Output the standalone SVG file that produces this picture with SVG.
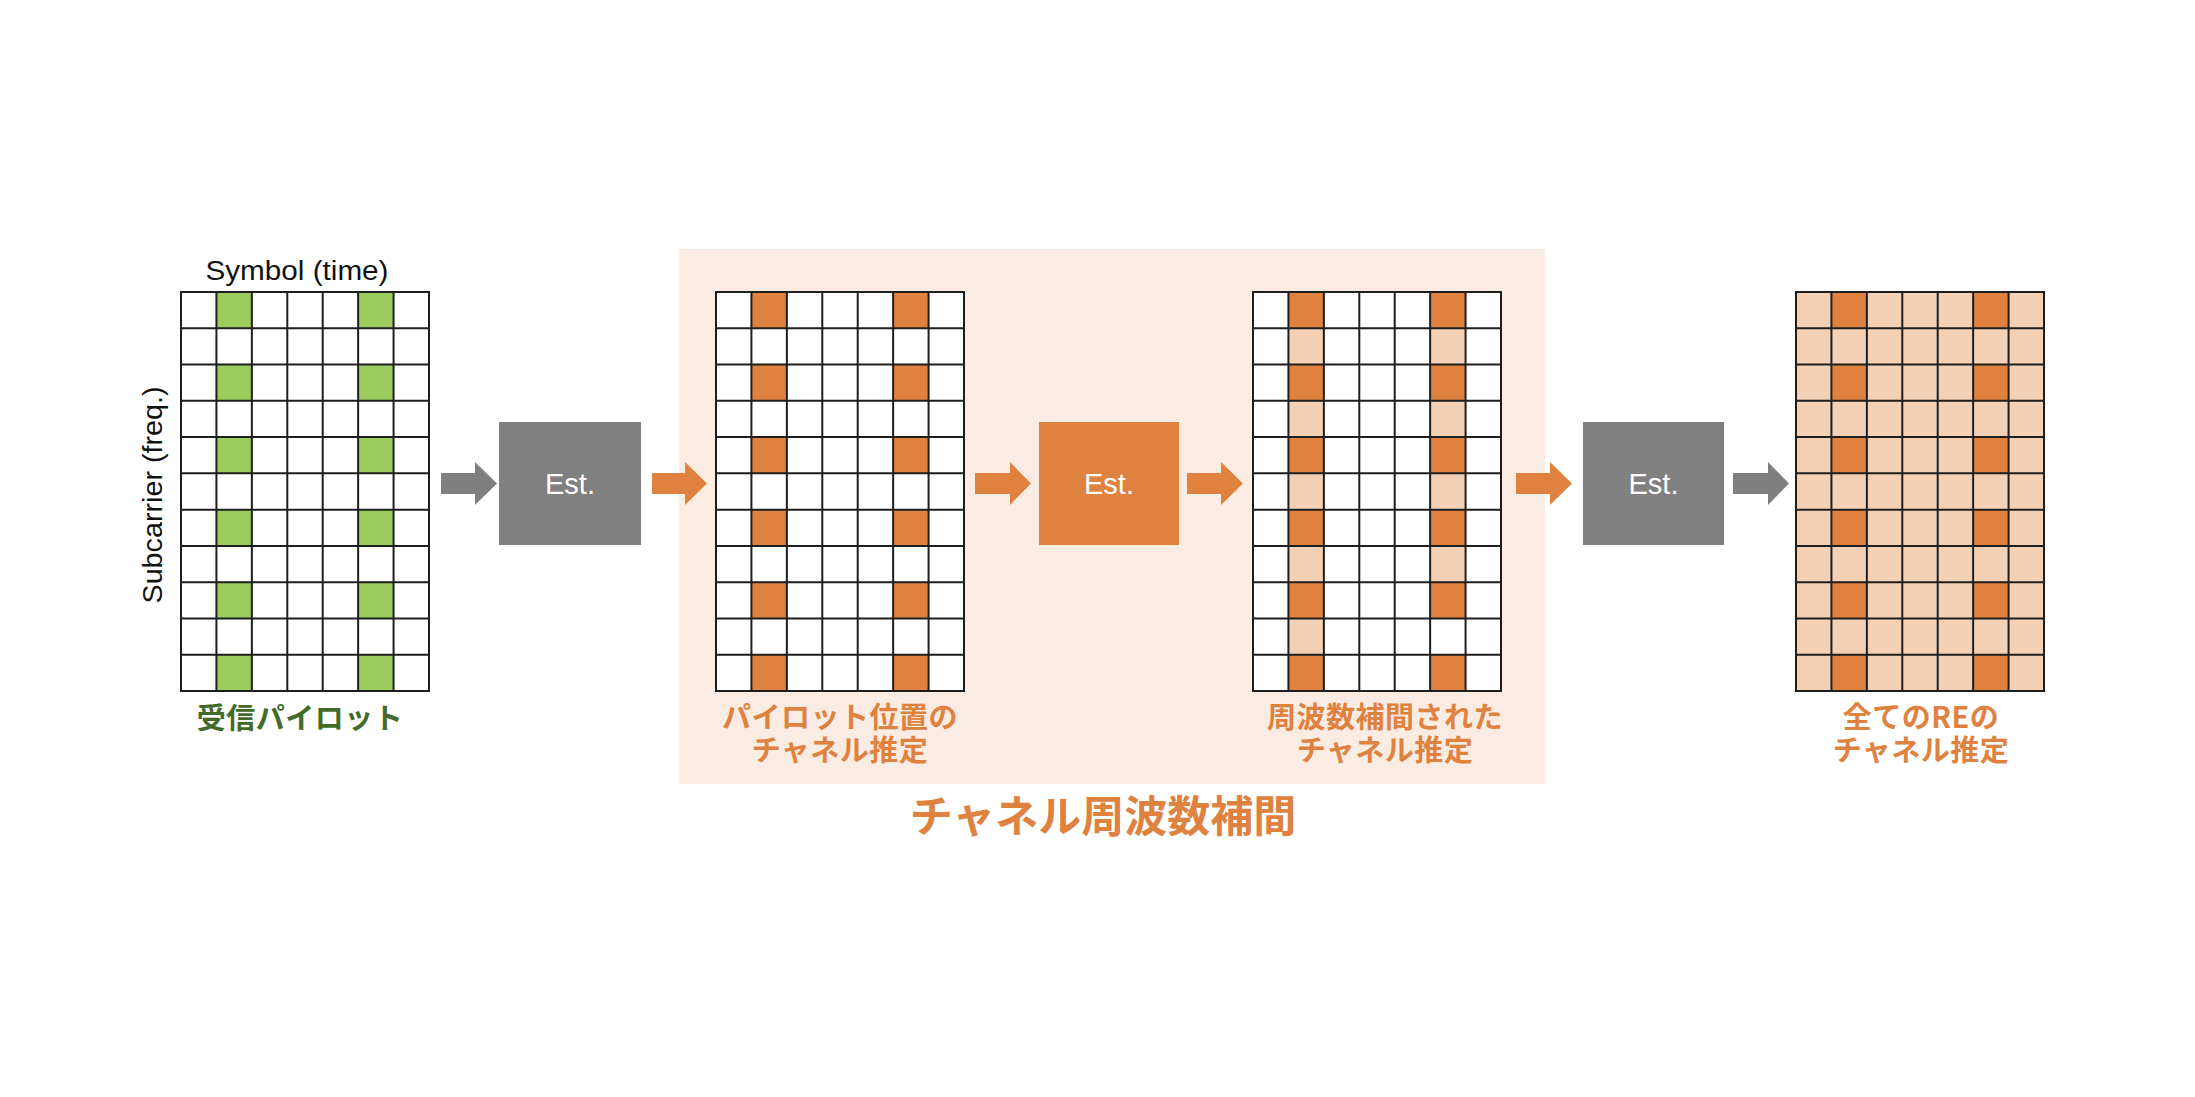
<svg xmlns="http://www.w3.org/2000/svg" xmlns:xlink="http://www.w3.org/1999/xlink" width="2195" height="1097" viewBox="0 0 2195 1097">
<style>
.lines{fill:none;stroke:#1e1e1e;stroke-width:2}
.white{fill:#ffffff}
.green{fill:#9ccc5e}
.pilot{fill:#e0823f}
.light{fill:#f4d1b5}
.est-gray{fill:#808080}
.est-orange{fill:#e0823f}
.arrow-gray{fill:#7f7f7f}
.arrow-orange{fill:#e0823f}
.est-text{font-family:"Liberation Sans",Arial,sans-serif;font-size:29px;fill:#ffffff;text-anchor:middle}
.axis{font-family:"Liberation Sans",Arial,sans-serif;font-size:27px;fill:#111111;text-anchor:middle}
.lbl{font-family:"Noto Sans CJK JP","Noto Sans",sans-serif;font-weight:bold;font-size:29px;text-anchor:middle;letter-spacing:0.5px}
.lbl-green{fill:#426b29}
.lbl-orange{fill:#e0823f}
.title{font-family:"Noto Sans CJK JP","Noto Sans",sans-serif;font-weight:bold;font-size:43px;fill:#e0823f;text-anchor:middle}
</style>
<defs>
<path id="gridlines" class="lines" d="M0 0H248V399H0Z M35.43 0V399 M70.86 0V399 M106.29 0V399 M141.71 0V399 M177.14 0V399 M212.57 0V399 M0 36.27H248 M0 72.55H248 M0 108.82H248 M0 145.09H248 M0 181.36H248 M0 217.64H248 M0 253.91H248 M0 290.18H248 M0 326.45H248 M0 362.73H248"/>
<g id="pilotcells">
<rect x="35.43" y="0" width="35.43" height="36.27"/>
<rect x="35.43" y="72.55" width="35.43" height="36.27"/>
<rect x="35.43" y="145.09" width="35.43" height="36.27"/>
<rect x="35.43" y="217.64" width="35.43" height="36.27"/>
<rect x="35.43" y="290.18" width="35.43" height="36.27"/>
<rect x="35.43" y="362.73" width="35.43" height="36.27"/>
<rect x="177.14" y="0" width="35.43" height="36.27"/>
<rect x="177.14" y="72.55" width="35.43" height="36.27"/>
<rect x="177.14" y="145.09" width="35.43" height="36.27"/>
<rect x="177.14" y="217.64" width="35.43" height="36.27"/>
<rect x="177.14" y="290.18" width="35.43" height="36.27"/>
<rect x="177.14" y="362.73" width="35.43" height="36.27"/>
</g>
</defs>

<rect id="interp-bg" x="679" y="249" width="866" height="535" fill="#fbece3"/>

<g id="grid-received" transform="translate(181,292)">
<rect class="white" x="0" y="0" width="248" height="399"/>
<use xlink:href="#pilotcells" class="green"/>
<use xlink:href="#gridlines"/>
</g>
<g id="axis-labels">
<text class="axis" x="297" y="279.5" textLength="183" lengthAdjust="spacingAndGlyphs">Symbol (time)</text>
<text class="axis" transform="translate(161.5,495) rotate(-90)" x="0" y="0" textLength="217" lengthAdjust="spacingAndGlyphs">Subcarrier (freq.)</text>
</g>
<g id="label-received"><text class="lbl lbl-green" x="300" y="729">受信パイロット</text></g>

<g id="est-1">
<rect class="est-gray" x="499" y="422" width="142" height="123"/>
<text class="est-text" x="570" y="494">Est.</text>
</g>

<g id="grid-pilot-est" transform="translate(716,292)">
<rect class="white" x="0" y="0" width="248" height="399"/>
<use xlink:href="#pilotcells" class="pilot"/>
<use xlink:href="#gridlines"/>
</g>
<g id="label-pilot-est">
<text class="lbl lbl-orange" x="840" y="728">パイロット位置の</text>
<text class="lbl lbl-orange" x="840" y="761">チャネル推定</text>
</g>

<g id="est-2">
<rect class="est-orange" x="1039" y="422" width="140" height="123"/>
<text class="est-text" x="1109" y="494">Est.</text>
</g>

<g id="grid-freq-interp" transform="translate(1253,292)">
<rect class="white" x="0" y="0" width="248" height="399"/>
<g class="light">
<rect x="35.43" y="36.27" width="35.43" height="36.27"/>
<rect x="35.43" y="108.82" width="35.43" height="36.27"/>
<rect x="35.43" y="181.36" width="35.43" height="36.27"/>
<rect x="35.43" y="253.91" width="35.43" height="36.27"/>
<rect x="35.43" y="326.45" width="35.43" height="36.27"/>
<rect x="177.14" y="36.27" width="35.43" height="36.27"/>
<rect x="177.14" y="108.82" width="35.43" height="36.27"/>
<rect x="177.14" y="181.36" width="35.43" height="36.27"/>
<rect x="177.14" y="253.91" width="35.43" height="36.27"/>
</g>
<use xlink:href="#pilotcells" class="pilot"/>
<use xlink:href="#gridlines"/>
</g>
<g id="label-freq-interp">
<text class="lbl lbl-orange" x="1385" y="728">周波数補間された</text>
<text class="lbl lbl-orange" x="1385" y="761">チャネル推定</text>
</g>

<g id="est-3">
<rect class="est-gray" x="1583" y="422" width="141" height="123"/>
<text class="est-text" x="1653.5" y="494">Est.</text>
</g>

<g id="grid-all-re" transform="translate(1796,292)">
<rect class="light" x="0" y="0" width="248" height="399"/>
<use xlink:href="#pilotcells" class="pilot"/>
<use xlink:href="#gridlines"/>
</g>
<g id="label-all-re">
<text class="lbl lbl-orange" x="1921" y="728">全てのREの</text>
<text class="lbl lbl-orange" x="1921" y="761">チャネル推定</text>
</g>

<g id="title"><text class="title" x="1103" y="832">チャネル周波数補間</text></g>

<g id="connectors">
<polygon class="arrow-gray" points="441,473 475,473 475,462 497,483.5 475,505 475,494 441,494"/>
<polygon class="arrow-orange" points="652,473 685,473 685,462 707,483.5 685,505 685,494 652,494"/>
<polygon class="arrow-orange" points="975,473 1010,473 1010,462 1031,483.5 1010,505 1010,494 975,494"/>
<polygon class="arrow-orange" points="1187,473 1221,473 1221,462 1243,483.5 1221,505 1221,494 1187,494"/>
<polygon class="arrow-orange" points="1516,473 1550,473 1550,462 1572,483.5 1550,505 1550,494 1516,494"/>
<polygon class="arrow-gray" points="1733,473 1768,473 1768,462 1789,483.5 1768,505 1768,494 1733,494"/>
</g>
</svg>
